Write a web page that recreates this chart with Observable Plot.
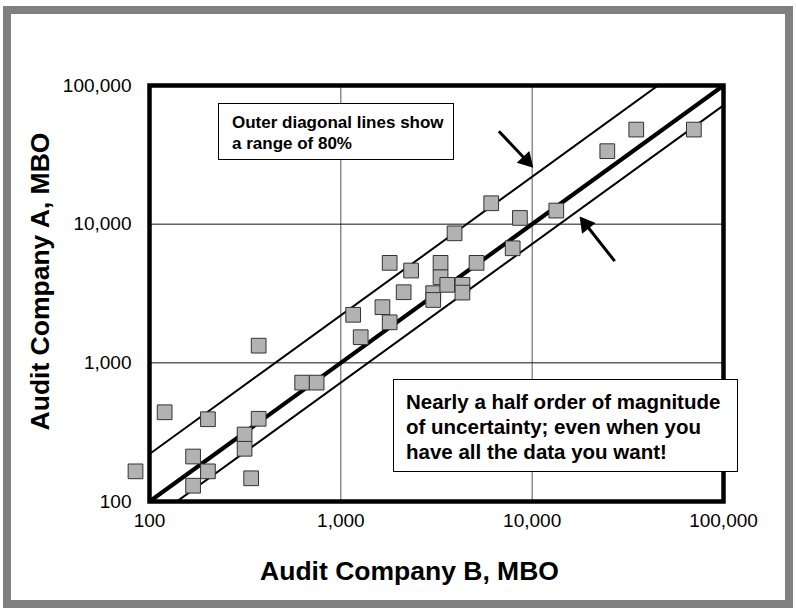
<!DOCTYPE html>
<html><head><meta charset="utf-8">
<script src="https://cdn.jsdelivr.net/npm/d3@7"></script>
<script src="https://cdn.jsdelivr.net/npm/@observablehq/plot@0.6"></script>
<style>
body{margin:0;background:#fff;font-family:"Liberation Sans",Arial,sans-serif;}
#wrap{position:relative;width:796px;height:610px;overflow:hidden}
#chart{position:absolute;left:0;top:0}
#border{position:absolute;left:3px;top:6px;width:774px;height:586px;border:8px solid #808080;pointer-events:none}
.note{position:absolute;background:#fff;border:1px solid #000;font-weight:bold;color:#000;box-sizing:border-box;white-space:nowrap}
#n1{left:218px;top:103px;width:236px;height:57px;font-size:17px;line-height:21px;padding:8px 0 0 13px}
#n2{left:393px;top:379px;width:345px;height:93px;font-size:20.5px;line-height:25px;padding:9px 0 0 12px}
</style></head><body>
<div id="wrap"><div id="chart"></div><div id="border"></div>
<div class="note" id="n1">Outer diagonal lines show<br>a range of 80%</div>
<div class="note" id="n2">Nearly a half order of magnitude<br>of uncertainty; even when you<br>have all the data you want!</div>
</div>
<script>
// Audit Company B (x) vs Audit Company A (y), MBO
const companyB = [84.5, 120, 169, 169, 202, 202, 314, 314, 340, 372, 372, 628, 747,
  1160, 1270, 1650, 1800, 1800, 2130, 2330, 3040, 3040, 3320, 3320, 3600, 4320, 4320,
  3930, 5120, 6110, 7910, 8630, 13370, 24700, 35000, 70000];
const companyA = [165, 440, 211, 130, 392, 165, 304, 240, 147, 395, 1330, 720, 720,
  2220, 1530, 2520, 1960, 5260, 3230, 4630, 3180, 2840, 5260, 4140, 3650, 3650, 3210,
  8590, 5260, 14150, 6700, 11090, 12530, 33600, 48100, 48100];
const tickValues = [100, 1000, 10000, 100000];
const gridValues = [1000, 10000];
const lineFactors = [2.2, 1, 0.72];      // upper, centre, lower diagonal
const lineWidths = [2, 4.2, 2];
const lineEnds = [100, 100000];
const arrowFrom = [[6700, 46800], [27000, 5410]];
const arrowTo = [[10140, 25500], [17700, 11350]];
const xTitle = "Audit Company B, MBO";
const yTitle = "Audit Company A, MBO";

const W = 796, H = 610, mL = 149, mR = 73, mT = 85, mB = 109;
const sx = Plot.scale({x: {type: "log", domain: [100, 100000], range: [mL, W - mR]}});
const sy = Plot.scale({y: {type: "log", domain: [100, 100000], range: [H - mB, mT]}});

const points = companyB.map((b, i) => ({b, a: companyA[i]}));
const diag = lineFactors.flatMap((f, k) => lineEnds.map(x => ({k, x, y: x * f})));

// arrow shafts and filled heads (head placed at the tip, pointing along the shaft)
const headLen = 15, triY = headLen / 3;
const heads = [], shafts = [];
arrowFrom.forEach((p, i) => {
  const [x1, y1] = p, [x2, y2] = arrowTo[i];
  const X1 = sx.apply(x1), Y1 = sy.apply(y1), X2 = sx.apply(x2), Y2 = sy.apply(y2);
  const L = Math.hypot(X2 - X1, Y2 - Y1), ux = (X2 - X1) / L, uy = (Y2 - Y1) / L;
  const cx = X2 - ux * 2 * triY, cy = Y2 - uy * 2 * triY;
  const bx = X2 - ux * headLen * 0.8, by = Y2 - uy * headLen * 0.8;
  heads.push({x: sx.invert(cx), y: sy.invert(cy), rot: Math.atan2(ux, -uy) * 180 / Math.PI});
  shafts.push({x1, y1, x2: sx.invert(bx), y2: sy.invert(by)});
});
const triR = Math.sqrt(triY * triY * 3 * Math.sqrt(3) / Math.PI);

const chart = Plot.plot({
  width: W, height: H,
  marginLeft: mL, marginRight: mR, marginTop: mT, marginBottom: mB,
  style: {fontFamily: "'Liberation Sans', Arial, sans-serif", fontSize: "19px", color: "#000", background: "#fff"},
  x: {type: "log", domain: [100, 100000]},
  y: {type: "log", domain: [100, 100000]},
  marks: [
    Plot.gridX(gridValues, {stroke: "#555", strokeOpacity: 1, strokeWidth: 1}),
    Plot.gridY(gridValues, {stroke: "#111", strokeOpacity: 1, strokeWidth: 1}),
    ...[0, 1, 2].map(k => Plot.line(diag.filter(d => d.k === k), {x: "x", y: "y", stroke: "#000", strokeWidth: lineWidths[k], clip: true})),
    Plot.dot(points, {x: "b", y: "a", symbol: "square", r: 8.3, fill: "#b2b2b2", stroke: "#333", strokeWidth: 1}),
    Plot.link(shafts, {x1: "x1", y1: "y1", x2: "x2", y2: "y2", stroke: "#000", strokeWidth: 3}),
    Plot.dot(heads, {x: "x", y: "y", symbol: "triangle", r: triR, rotate: "rot", fill: "#000", stroke: "none"}),
    Plot.frame({stroke: "#000", strokeWidth: 4.5}),
    Plot.axisX(tickValues, {tickSize: 0, tickPadding: 12, tickFormat: d3.format(","), label: null, fontSize: 19}),
    Plot.axisY(tickValues, {tickSize: 0, tickPadding: 18, tickFormat: d3.format(","), label: null, fontSize: 19}),
    Plot.text([xTitle], {frameAnchor: "bottom", lineAnchor: "bottom", dx: -27, dy: 78, fontSize: 26.5, fontWeight: "bold"}),
    Plot.text([yTitle], {frameAnchor: "left", textAnchor: "middle", lineAnchor: "middle", dx: -109, dy: -12, rotate: -90, fontSize: 26.5, fontWeight: "bold"})
  ]
});
document.getElementById("chart").appendChild(chart);
</script>
</body></html>
